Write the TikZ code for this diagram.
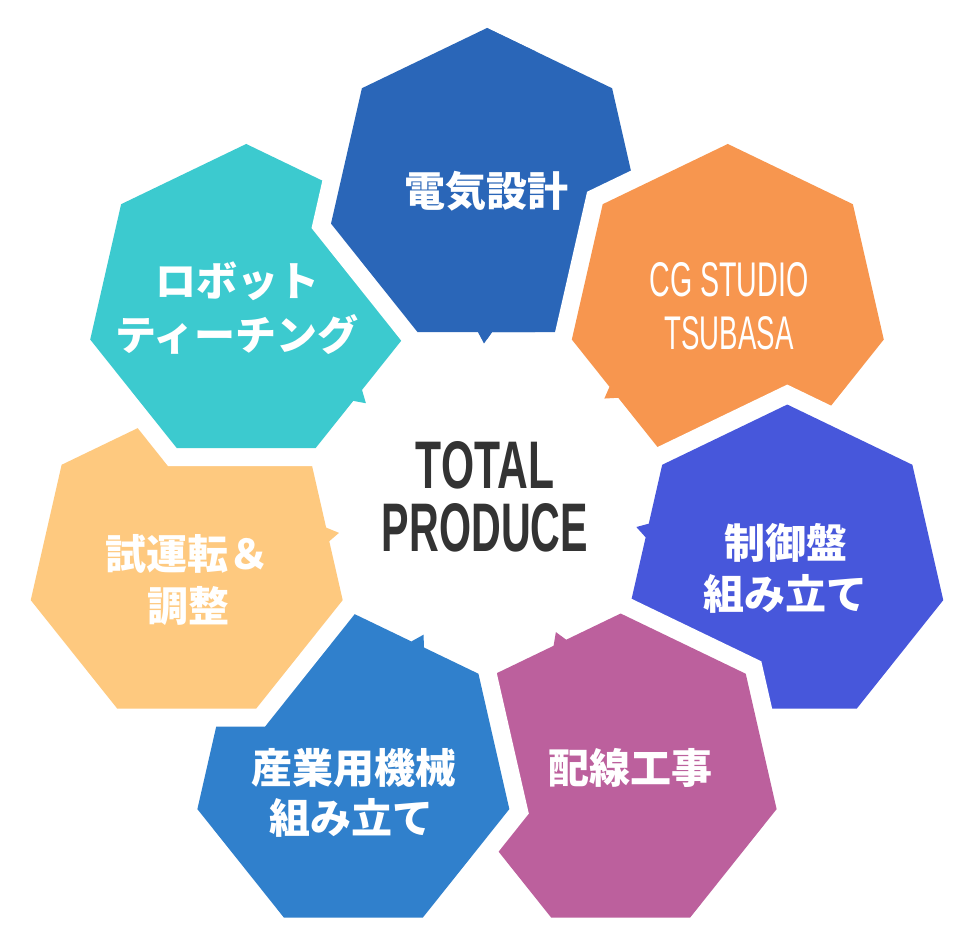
\documentclass[tikz,border=0pt]{standalone}
\usepackage{fontspec}
\usepackage{graphicx}
\newfontfamily\jpfont{Noto Sans CJK JP}
\newfontfamily\latinfont{Liberation Sans}
\definecolor{cA}{HTML}{2A66B8}
\definecolor{cB}{HTML}{F7964F}
\definecolor{cC}{HTML}{4757DB}
\definecolor{cD}{HTML}{BC609D}
\definecolor{cE}{HTML}{3080CC}
\definecolor{cF}{HTML}{FEC97F}
\definecolor{cG}{HTML}{3CCACF}
\definecolor{ctext}{HTML}{333333}
\newcommand\heptstroke[2]{%
  \begin{scope}[shift={(#1)}, rotate=#2]
    \draw[white, line width=36pt, line join=miter]
      (0,160) -- (-125.09,99.76) -- (-155.99,-35.60) -- (-69.42,-144.15)
      -- (-9,-144.15) -- (-3,-155.5) -- (5,-144.15)
      -- (69.42,-144.15) -- (155.99,-35.60) -- (125.09,99.76) -- cycle;
  \end{scope}}
\newcommand\heptfill[3]{%
  \begin{scope}[shift={(#1)}, rotate=#2]
    \fill[#3]
      (0,160) -- (-125.09,99.76) -- (-155.99,-35.60) -- (-69.42,-144.15)
      -- (-9,-144.15) -- (-3,-155.5) -- (5,-144.15)
      -- (69.42,-144.15) -- (155.99,-35.60) -- (125.09,99.76) -- cycle;
  \end{scope}}
\newcommand\heptshape[3]{\heptstroke{#1}{#2}\heptfill{#1}{#2}{#3}}
\begin{document}
\begin{tikzpicture}[x=1pt,y=1pt,
  jp/.style={font=\jpfont\bfseries\fontsize{41}{52}\selectfont, text=white, anchor=base, inner sep=0pt},
  lat/.style={anchor=base, inner sep=0pt}]
\useasboundingbox[fill=white] (0,0) rectangle (972,946);
\heptshape{487,758}{0}{cA}
\heptshape{727.80,642.04}{-51.4286}{cB}
\heptshape{787.28,381.46}{-102.857}{cC}
\heptshape{620.64,172.50}{-154.286}{cD}
\heptshape{353.36,172.50}{-205.714}{cE}
\heptshape{186.72,381.46}{-257.143}{cF}
\heptshape{246.20,642.04}{-308.571}{cG}
% the first shape lies over the last one: redraw its left part
\begin{scope}
  \clip (0,450) rectangle (487,946);
  \heptstroke{487,758}{0}
\end{scope}
\begin{scope}
  \clip (0,450) rectangle (535,946);
  \heptfill{487,758}{0}{cA}
\end{scope}
% texts
\node[jp] (t0) at (486, 946-206.5) {電気設計};
\node[jp] (t6a) at (237, 946-296.5) {ロボット};
\node[jp] (t6b) at (237, 946-350.5) {ティーチング};
\node[jp] (t2a) at (786, 946-558.5) {制御盤};
\node[jp] (t2b) at (785, 946-609.5) {組み立て};
\node[jp] (t3) at (630, 946-783.5) {配線工事};
\node[jp] (t4a) at (354, 946-783.5) {産業用機械};
\node[jp] (t4b) at (351, 946-833.5) {組み立て};
\node[jp] (t5a) at (187, 946-569.5) {試運転＆};
\node[jp] (t5b) at (188, 946-621.5) {調整};
\node[lat, text=white] (t1a) at (729, 946-297) {\resizebox{159pt}{34pt}{\latinfont CG STUDIO}};
\node[lat, text=white] (t1b) at (729, 946-350) {\resizebox{129pt}{33pt}{\latinfont TSUBASA}};
\node[lat, text=ctext] (c1) at (485, 946-489) {\resizebox{138pt}{47pt}{\latinfont\bfseries TOTAL}};
\node[lat, text=ctext] (c2) at (485, 946-552) {\resizebox{206pt}{48pt}{\latinfont\bfseries PRODUCE}};
\end{tikzpicture}
\end{document}
